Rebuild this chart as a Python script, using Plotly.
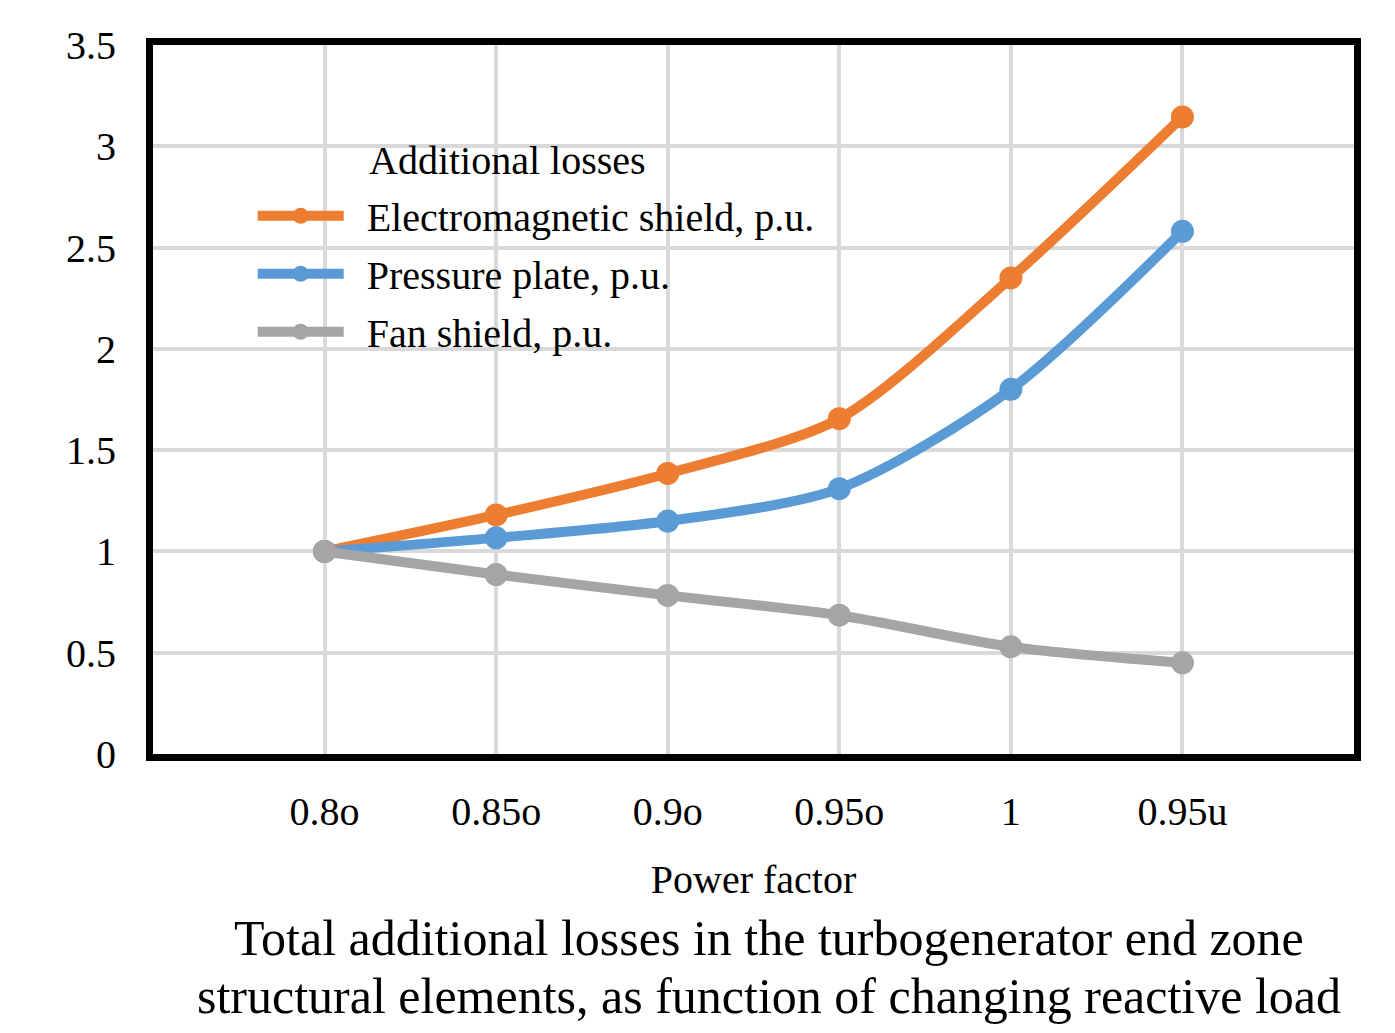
import plotly.graph_objects as go

categories = ["0.8o", "0.85o", "0.9o", "0.95o", "1", "0.95u"]
em_shield = [1.0, 1.18, 1.385, 1.655, 2.35, 3.145]
pressure_plate = [1.0, 1.067, 1.15, 1.31, 1.80, 2.58]
fan_shield = [1.0, 0.886, 0.783, 0.685, 0.529, 0.45]
y_ticks = [0, 0.5, 1, 1.5, 2, 2.5, 3, 3.5]
y_tick_labels = ["0", "0.5", "1", "1.5", "2", "2.5", "3", "3.5"]

series = [
    ("Electromagnetic shield, p.u.", em_shield, "#ED7D31"),
    ("Pressure plate, p.u.", pressure_plate, "#5B9BD5"),
    ("Fan shield, p.u.", fan_shield, "#A5A5A5"),
]

FONT = "Liberation Serif, Times New Roman, serif"

fig = go.Figure()
for i, (name, vals, color) in enumerate(series):
    fig.add_trace(go.Scatter(
        x=categories, y=vals, name="\u00a0\u2009" + name, mode="lines+markers",
        legendgroup="g%d" % i,
        line=dict(color=color, width=10, shape="spline", smoothing=0.8),
        marker=dict(color=color, size=23),
    ))

fig.update_layout(
    width=1395, height=1033,
    margin=dict(l=153, r=41, t=45, b=279),
    paper_bgcolor="white", plot_bgcolor="white",
    font=dict(family=FONT, size=40, color="black"),
    showlegend=True,
    legend=dict(
        x=0.083, y=0.805, xanchor="left", yanchor="top",
        bgcolor="rgba(0,0,0,0)", borderwidth=0,
        font=dict(family=FONT, size=40, color="black"),
        itemwidth=86, tracegroupgap=3, traceorder="grouped",
    ),
    shapes=[dict(
        type="rect", xref="paper", yref="paper",
        x0=(235 - 150) / 1207, x1=(835 - 150) / 1207,
        y0=(757 - 362) / 715, y1=(757 - 128) / 715,
        fillcolor="white", line=dict(width=0), layer="between",
    )],
    annotations=[
        dict(text="Additional losses", xref="paper", yref="paper",
             x=(365 - 150) / 1207, y=(757 - 158) / 715, xanchor="left", yanchor="middle",
             showarrow=False, font=dict(family=FONT, size=40, color="black")),
        dict(text="Total additional losses in the turbogenerator end zone",
             xref="paper", yref="paper", x=(769 - 150) / 1207, y=-(943 - 757) / 715,
             xanchor="center", yanchor="middle", showarrow=False,
             font=dict(family=FONT, size=50, color="black")),
        dict(text="structural elements, as function of changing reactive load",
             xref="paper", yref="paper", x=(769 - 150) / 1207, y=-(1001 - 757) / 715,
             xanchor="center", yanchor="middle", showarrow=False,
             font=dict(family=FONT, size=50, color="black")),
    ],
)

fig.update_xaxes(
    type="category", range=[-1, 6],
    showgrid=True, gridcolor="#D9D9D9", gridwidth=4,
    showline=True, linecolor="black", linewidth=7, mirror=True,
    ticks="", ticklabelstandoff=16,
    title=dict(text="Power factor", standoff=34, font=dict(family=FONT, size=40)),
    tickfont=dict(family=FONT, size=40),
)
fig.update_yaxes(
    range=[0, 3.5], tickvals=y_ticks, ticktext=y_tick_labels,
    showgrid=True, gridcolor="#D9D9D9", gridwidth=4, zeroline=False,
    showline=True, linecolor="black", linewidth=7, mirror=True,
    ticks="", ticklabelstandoff=22,
    tickfont=dict(family=FONT, size=40),
)

fig.write_html("out.html")
